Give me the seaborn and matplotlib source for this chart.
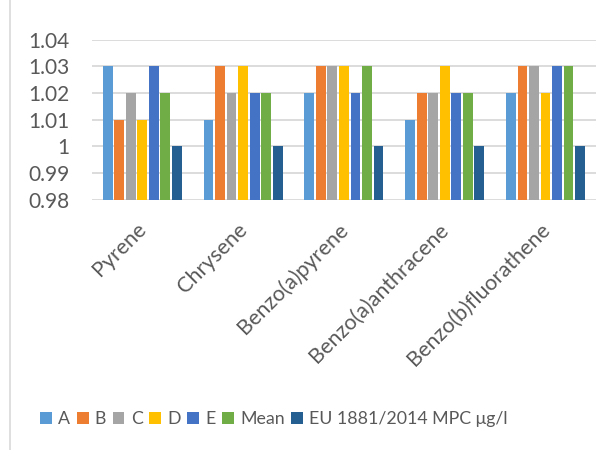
import matplotlib
matplotlib.use("Agg")
import matplotlib.pyplot as plt
from matplotlib.lines import Line2D
from matplotlib.patches import Patch
from matplotlib.transforms import ScaledTranslation
import pandas as pd
import seaborn as sns

compounds = ["Pyrene", "Chrysene", "Benzo(a)pyrene", "Benzo(a)anthracene", "Benzo(b)fluorathene"]
series = ["A", "B", "C", "D", "E", "Mean", "EU 1881/2014 MPC μg/l"]
val_a = [1.03, 1.01, 1.02, 1.01, 1.02]
val_b = [1.01, 1.03, 1.03, 1.02, 1.03]
val_c = [1.02, 1.02, 1.03, 1.02, 1.03]
val_d = [1.01, 1.03, 1.03, 1.03, 1.02]
val_e = [1.03, 1.02, 1.02, 1.02, 1.03]
val_mean = [1.02, 1.02, 1.03, 1.02, 1.03]
val_eu = [1.00, 1.00, 1.00, 1.00, 1.00]
yticks = [0.98, 0.99, 1.00, 1.01, 1.02, 1.03, 1.04]
ytick_labels = ["0.98", "0.99", "1", "1.01", "1.02", "1.03", "1.04"]
colors = ["#5B9BD5", "#ED7D31", "#A5A5A5", "#FFC000", "#4472C4", "#70AD47", "#255E91"]

values = [val_a, val_b, val_c, val_d, val_e, val_mean, val_eu]
rows = []
for name, vals in zip(series, values):
    for comp, v in zip(compounds, vals):
        rows.append({"compound": comp, "series": name, "value": v})
df = pd.DataFrame(rows)

sns.set_theme(style="white")
plt.rcParams["font.family"] = ["Lato", "DejaVu Sans"]
text_color = "#595959"
grid_color = "#D9D9D9"

fig = plt.figure(figsize=(6.13, 4.5), dpi=100)
ax = fig.add_axes([0.150, 0.556, 0.822, 0.356])

sns.barplot(data=df, x="compound", y="value", hue="series", order=compounds,
            hue_order=series, palette=colors, width=0.8, gap=0.15,
            saturation=1, linewidth=0, ax=ax, legend=False, zorder=3)

ax.set_ylim(0.98, 1.04)
ax.set_yticks(yticks)
ax.set_yticklabels(ytick_labels)
ax.set_xlim(-0.5, len(compounds) - 0.5)
for y in yticks:
    ax.axhline(y, color=grid_color, lw=1.3, zorder=1)
for s in ax.spines.values():
    s.set_visible(False)
ax.set_xlabel("")
ax.set_ylabel("")
ax.tick_params(axis="both", length=0, colors=text_color, labelsize=15)
ax.tick_params(axis="y", pad=16)
ax.tick_params(axis="x", pad=14)
shift = ScaledTranslation(-6 / 100, 0, fig.dpi_scale_trans)
for lbl in ax.get_xticklabels():
    lbl.set_rotation(45)
    lbl.set_ha("right")
    lbl.set_rotation_mode("anchor")
    lbl.set_fontsize(15.5)
    lbl.set_transform(lbl.get_transform() + shift)

handles = [Patch(facecolor=c, edgecolor="none") for c in colors]
fig.legend(handles, series, loc="center", bbox_to_anchor=(0.447, 0.069), ncol=7,
           frameon=False, fontsize=12.8, handlelength=0.65, handleheight=0.65,
           handletextpad=0.35, columnspacing=0.38, labelcolor=text_color)

fig.add_artist(Line2D([10 / 613, 10 / 613], [0, 1], transform=fig.transFigure,
                      color="#D9D9D9", lw=1.2))

fig.savefig("out.png", dpi=100)
